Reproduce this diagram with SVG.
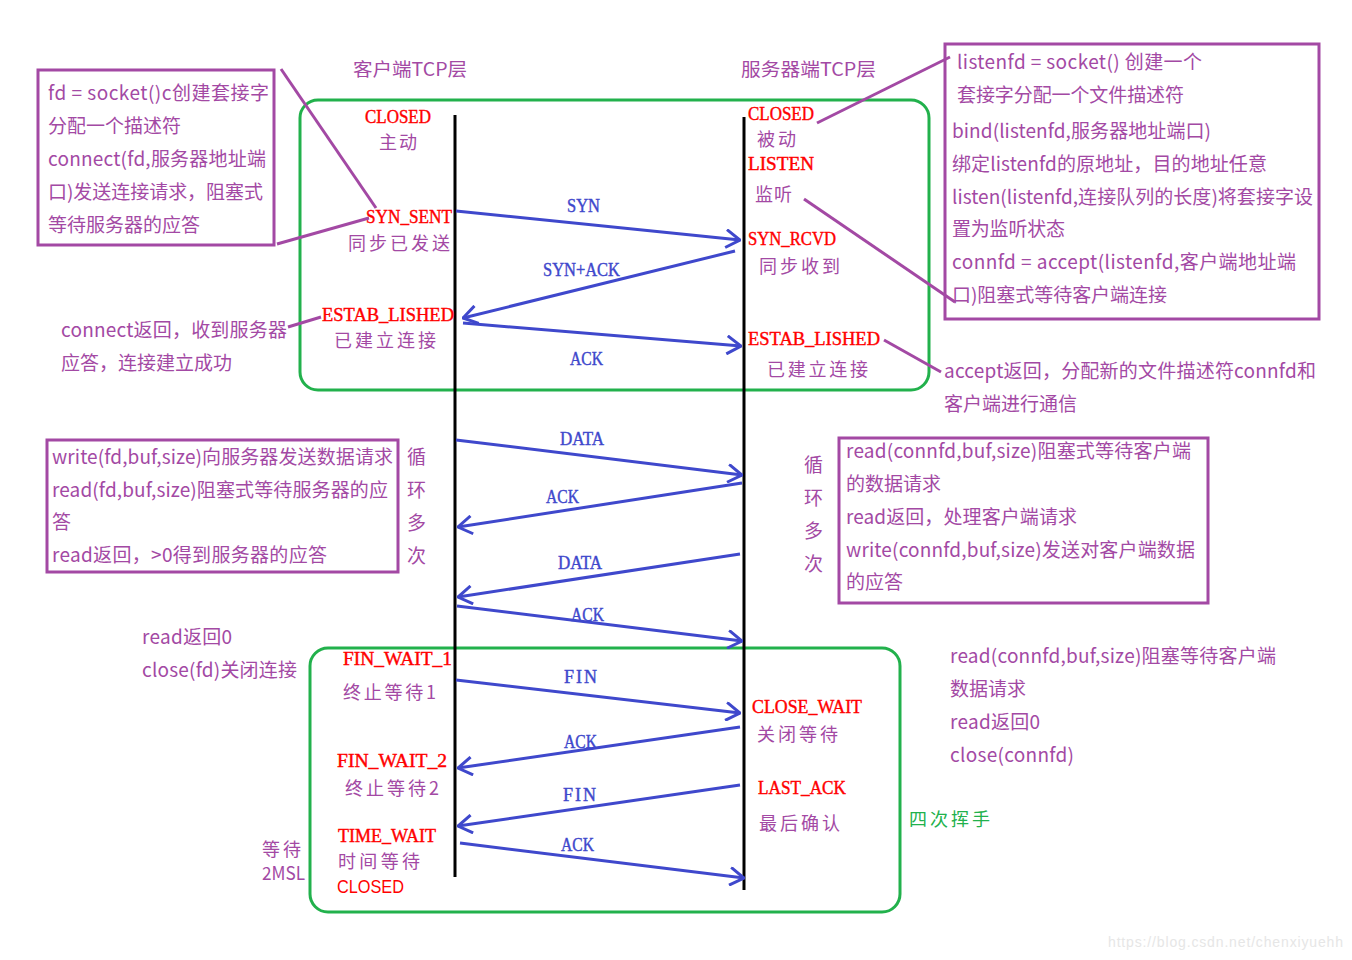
<svg xmlns="http://www.w3.org/2000/svg" width="1352" height="960" viewBox="0 0 1352 960">
<style>
.st{font-family:"Liberation Serif","Noto Sans CJK SC",serif;font-size:18px;fill:#ff0000;stroke:#ff0000;stroke-width:0.4}
.cn{font-family:"Noto Sans CJK SC",sans-serif;font-size:18px;fill:#a349a4}
.an{font-family:"Noto Sans CJK SC",sans-serif;font-size:19px;fill:#a349a4}
.lb{font-family:"Liberation Serif",serif;font-size:18px;fill:#3f48cc;stroke:#3f48cc;stroke-width:0.4}
.box{fill:none;stroke:#a349a4;stroke-width:3}
.grn{fill:none;stroke:#22b14c;stroke-width:3}
.arr{stroke:#3f48cc;stroke-width:3;fill:none;marker-end:url(#ah)}
.ld{stroke:#a349a4;stroke-width:3;fill:none}
.life{stroke:#000;stroke-width:3}
</style>
<defs>
<marker id="ah" viewBox="0 0 16 20" refX="15" refY="10" markerWidth="16" markerHeight="20" markerUnits="userSpaceOnUse" orient="auto">
<path d="M1,1 L15,10 L1,19" fill="none" stroke="#3f48cc" stroke-width="3"/>
</marker>
</defs>
<rect width="1352" height="960" fill="#fff"/>

<g id="frames">
<rect class="grn" x="300" y="100" width="629" height="290" rx="18"/>
<rect class="grn" x="310" y="648" width="590" height="264" rx="18"/>
</g>

<g id="lifelines">
<line class="life" x1="455" y1="115" x2="455" y2="877"/>
<line class="life" x1="744" y1="117" x2="744" y2="890"/>
</g>

<g id="titles">
<text class="cn" x="353" y="76" textLength="114" lengthAdjust="spacingAndGlyphs">客户端TCP层</text>
<text class="cn" x="741" y="76" textLength="135" lengthAdjust="spacingAndGlyphs">服务器端TCP层</text>
</g>

<g id="client-closed"><text class="st" x="365" y="123" textLength="66" lengthAdjust="spacingAndGlyphs">CLOSED</text><text class="cn" x="379" y="149" textLength="38">主动</text></g>
<g id="client-syn-sent"><text class="st" x="366" y="223" textLength="86" lengthAdjust="spacingAndGlyphs">SYN_SENT</text><text class="cn" x="348" y="250" textLength="102">同步已发送</text></g>
<g id="client-established"><text class="st" x="322" y="321" textLength="132" lengthAdjust="spacingAndGlyphs">ESTAB_LISHED</text><text class="cn" x="334" y="347" textLength="102">已建立连接</text></g>
<g id="client-fin-wait-1"><text class="st" x="343" y="665" textLength="109" lengthAdjust="spacingAndGlyphs">FIN_WAIT_1</text><text class="cn" x="343" y="699" textLength="93">终止等待1</text></g>
<g id="client-fin-wait-2"><text class="st" x="337" y="767" textLength="110" lengthAdjust="spacingAndGlyphs">FIN_WAIT_2</text><text class="cn" x="345" y="795" textLength="94">终止等待2</text></g>
<g id="client-time-wait"><text class="st" x="338" y="842" textLength="98" lengthAdjust="spacingAndGlyphs">TIME_WAIT</text><text class="cn" x="338" y="868" textLength="82">时间等待</text><text x="337" y="893" textLength="67" lengthAdjust="spacingAndGlyphs" style="font-family:'Liberation Sans',sans-serif;font-size:18px;fill:#ff0000">CLOSED</text></g>
<g id="wait-2msl"><text class="cn" x="262" y="856" textLength="39">等待</text><text class="cn" x="262" y="880" textLength="43" lengthAdjust="spacingAndGlyphs">2MSL</text></g>

<g id="server-closed"><text class="st" x="748" y="120" textLength="66" lengthAdjust="spacingAndGlyphs">CLOSED</text><text class="cn" x="757" y="146" textLength="39">被动</text></g>
<g id="server-listen"><text class="st" x="748" y="170" textLength="66" lengthAdjust="spacingAndGlyphs">LISTEN</text><text class="cn" x="755" y="201" textLength="37">监听</text></g>
<g id="server-syn-rcvd"><text class="st" x="748" y="245" textLength="88" lengthAdjust="spacingAndGlyphs">SYN_RCVD</text><text class="cn" x="759" y="273" textLength="81">同步收到</text></g>
<g id="server-established"><text class="st" x="748" y="345" textLength="132" lengthAdjust="spacingAndGlyphs">ESTAB_LISHED</text><text class="cn" x="767" y="376" textLength="101">已建立连接</text></g>
<g id="server-close-wait"><text class="st" x="752" y="713" textLength="110" lengthAdjust="spacingAndGlyphs">CLOSE_WAIT</text><text class="cn" x="757" y="741" textLength="81">关闭等待</text></g>
<g id="server-last-ack"><text class="st" x="758" y="794" textLength="88" lengthAdjust="spacingAndGlyphs">LAST_ACK</text><text class="cn" x="759" y="830" textLength="81">最后确认</text></g>
<g id="four-way"><text x="909" y="826" textLength="81" style="font-family:'Noto Sans CJK SC',sans-serif;font-size:18px;fill:#22b14c">四次挥手</text></g>

<g id="note-client-socket">
<rect class="box" x="38" y="70" width="236" height="175"/>
<text class="an" x="48" y="100" textLength="221">fd = socket()c创建套接字</text>
<text class="an" x="48" y="133" textLength="133">分配一个描述符</text>
<text class="an" x="48" y="166" textLength="218">connect(fd,服务器地址端</text>
<text class="an" x="48" y="199" textLength="215">口)发送连接请求，阻塞式</text>
<text class="an" x="48" y="232" textLength="152">等待服务器的应答</text>
</g>
<g id="note-connect-return">
<text class="an" x="61" y="337" textLength="226">connect返回，收到服务器</text>
<text class="an" x="61" y="370" textLength="171">应答，连接建立成功</text>
</g>
<g id="note-server-socket">
<rect class="box" x="945" y="44" width="374" height="275"/>
<text class="an" x="957" y="69" textLength="245">listenfd = socket() 创建一个</text>
<text class="an" x="957" y="102" textLength="227">套接字分配一个文件描述符</text>
<text class="an" x="952" y="138" textLength="259">bind(listenfd,服务器地址端口)</text>
<text class="an" x="952" y="171" textLength="315">绑定listenfd的原地址，目的地址任意</text>
<text class="an" x="952" y="204" textLength="361">listen(listenfd,连接队列的长度)将套接字设</text>
<text class="an" x="952" y="236" textLength="113">置为监听状态</text>
<text class="an" x="952" y="269" textLength="344">connfd = accept(listenfd,客户端地址端</text>
<text class="an" x="952" y="302" textLength="215">口)阻塞式等待客户端连接</text>
</g>
<g id="note-accept-return">
<text class="an" x="944" y="378" textLength="372">accept返回，分配新的文件描述符connfd和</text>
<text class="an" x="944" y="411" textLength="133">客户端进行通信</text>
</g>
<g id="note-client-loop">
<rect class="box" x="47" y="440" width="351" height="132"/>
<text class="an" x="52" y="464" textLength="341">write(fd,buf,size)向服务器发送数据请求</text>
<text class="an" x="52" y="497" textLength="336">read(fd,buf,size)阻塞式等待服务器的应</text>
<text class="an" x="52" y="529">答</text>
<text class="an" x="52" y="562" textLength="275">read返回，&gt;0得到服务器的应答</text>
<text class="an" x="407" y="464">循</text>
<text class="an" x="407" y="497">环</text>
<text class="an" x="407" y="530">多</text>
<text class="an" x="407" y="563">次</text>
</g>
<g id="note-server-loop">
<text class="an" x="804" y="472">循</text>
<text class="an" x="804" y="505">环</text>
<text class="an" x="804" y="538">多</text>
<text class="an" x="804" y="571">次</text>
<rect class="box" x="839" y="438" width="369" height="165"/>
<text class="an" x="846" y="458" textLength="345">read(connfd,buf,size)阻塞式等待客户端</text>
<text class="an" x="846" y="491" textLength="95">的数据请求</text>
<text class="an" x="846" y="524" textLength="231">read返回，处理客户端请求</text>
<text class="an" x="846" y="557" textLength="349">write(connfd,buf,size)发送对客户端数据</text>
<text class="an" x="846" y="589" textLength="57">的应答</text>
</g>
<g id="note-client-close">
<text class="an" x="142" y="644" textLength="90">read返回0</text>
<text class="an" x="142" y="677" textLength="155">close(fd)关闭连接</text>
</g>
<g id="note-server-close">
<text class="an" x="950" y="663" textLength="326">read(connfd,buf,size)阻塞等待客户端</text>
<text class="an" x="950" y="696" textLength="76">数据请求</text>
<text class="an" x="950" y="729" textLength="90">read返回0</text>
<text class="an" x="950" y="762" textLength="124">close(connfd)</text>
</g>

<g id="connectors">
<line class="arr" x1="456" y1="211" x2="740" y2="240"/>
<line class="arr" x1="735" y1="251" x2="463" y2="318"/>
<line class="arr" x1="463" y1="323" x2="741" y2="346"/>
<line class="arr" x1="456" y1="440" x2="742" y2="475"/>
<line class="arr" x1="742" y1="483" x2="458" y2="527"/>
<line class="arr" x1="740" y1="554" x2="458" y2="597"/>
<line class="arr" x1="457" y1="606" x2="742" y2="641"/>
<line class="arr" x1="456" y1="680" x2="740" y2="713"/>
<line class="arr" x1="740" y1="727" x2="458" y2="768"/>
<line class="arr" x1="740" y1="785" x2="458" y2="826"/>
<line class="arr" x1="460" y1="843" x2="744" y2="878"/>
<line class="ld" x1="281" y1="69" x2="376" y2="208"/>
<line class="ld" x1="277" y1="244" x2="369" y2="218"/>
<line class="ld" x1="288" y1="327" x2="321" y2="317"/>
<line class="ld" x1="817" y1="123" x2="950" y2="57"/>
<line class="ld" x1="804" y1="199" x2="955" y2="302"/>
<line class="ld" x1="884" y1="340" x2="941" y2="372"/>
</g>
<g id="connector-labels">
<text class="lb" x="567" y="212" textLength="33" lengthAdjust="spacingAndGlyphs">SYN</text>
<text class="lb" x="543" y="276" textLength="77" lengthAdjust="spacingAndGlyphs">SYN+ACK</text>
<text class="lb" x="570" y="365" textLength="33" lengthAdjust="spacingAndGlyphs">ACK</text>
<text class="lb" x="560" y="445" textLength="44" lengthAdjust="spacingAndGlyphs">DATA</text>
<text class="lb" x="546" y="503" textLength="33" lengthAdjust="spacingAndGlyphs">ACK</text>
<text class="lb" x="558" y="569" textLength="44" lengthAdjust="spacingAndGlyphs">DATA</text>
<text class="lb" x="571" y="621" textLength="33" lengthAdjust="spacingAndGlyphs">ACK</text>
<text class="lb" x="564" y="683" textLength="33">FIN</text>
<text class="lb" x="564" y="748" textLength="33" lengthAdjust="spacingAndGlyphs">ACK</text>
<text class="lb" x="563" y="801" textLength="33">FIN</text>
<text class="lb" x="561" y="851" textLength="33" lengthAdjust="spacingAndGlyphs">ACK</text>
</g>
<text x="1108" y="947" textLength="235" style="font-family:'Liberation Sans',sans-serif;font-size:14px;fill:#e6e6e6">https://blog.csdn.net/chenxiyuehh</text>
</svg>
